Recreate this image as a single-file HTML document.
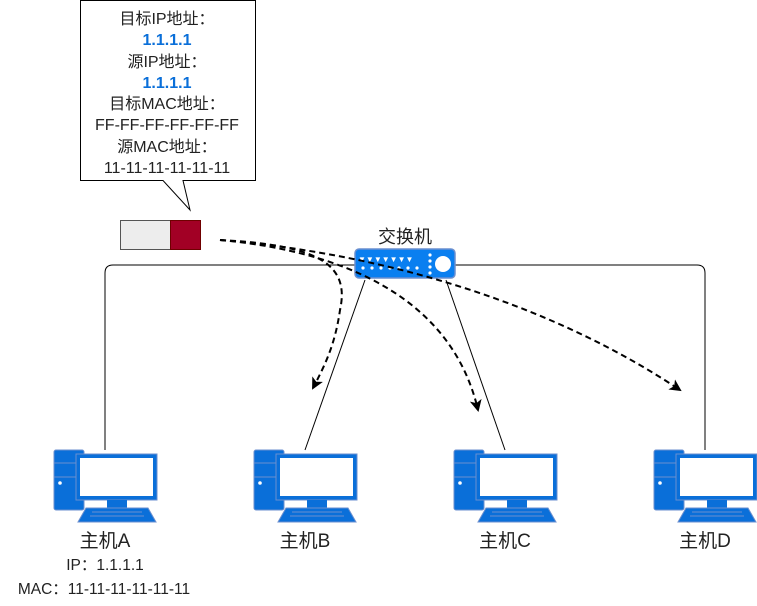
<!DOCTYPE html>
<html><head><meta charset="utf-8"><style>
body{margin:0;width:757px;height:601px;background:#fff;overflow:hidden;font-family:"Liberation Sans","Noto Sans CJK SC",sans-serif;}
</style></head><body>
<svg width="757" height="601" viewBox="0 0 757 601" xmlns="http://www.w3.org/2000/svg" font-family="Liberation Sans, Noto Sans CJK SC, sans-serif">
<defs>
<g id="pc">
<rect x="0" y="0" width="30" height="60" rx="2" fill="#0a6fd9" stroke="#6b8fcf" stroke-width="1"/>
<line x1="0" y1="13" x2="30" y2="13" stroke="#6b8fcf"/>
<line x1="0" y1="27" x2="30" y2="27" stroke="#6b8fcf"/>
<circle cx="6" cy="33" r="1.8" fill="#fff"/>
<rect x="22" y="4" width="81" height="46" fill="#0a6fd9" stroke="#6b8fcf"/>
<rect x="26" y="8" width="73" height="38" fill="#fff"/>
<rect x="53" y="50" width="20" height="8" fill="#0a6fd9"/>
<polygon points="32,58 94,58 102,72 24,72" fill="#0a6fd9" stroke="#6b8fcf"/>
<line x1="38" y1="62" x2="88" y2="62" stroke="#6b8fcf"/>
<line x1="36" y1="66" x2="90" y2="66" stroke="#6b8fcf"/>
</g>
<marker id="ah" markerWidth="12" markerHeight="12" refX="10" refY="6" orient="auto" markerUnits="userSpaceOnUse">
<path d="M0,0 L12,6 L0,12 L3,6 z" fill="#000"/>
</marker>
</defs>
<path d="M80.5,0.5 H255.5 V180.5 H183 L190,210 L163,180.5 H80.5 Z" fill="#fff" stroke="#000"/>
<g font-size="16" text-anchor="middle" fill="#222">
<text x="167" y="24">目标IP地址：</text>
<text x="167" y="45" fill="#0a6fd9" font-weight="bold">1.1.1.1</text>
<text x="167" y="67">源IP地址：</text>
<text x="167" y="88" fill="#0a6fd9" font-weight="bold">1.1.1.1</text>
<text x="167" y="109">目标MAC地址：</text>
<text x="167" y="130">FF-FF-FF-FF-FF-FF</text>
<text x="167" y="152">源MAC地址：</text>
<text x="167" y="173">11-11-11-11-11-11</text>
</g>
<rect x="120.5" y="220.5" width="50" height="29" fill="#ededed" stroke="#555"/>
<rect x="170.5" y="220.5" width="30" height="29" fill="#a20025" stroke="#6f0000"/>
<path d="M105,450 V273 Q105,265 113,265 H697 Q705,265 705,273 V450" fill="none" stroke="#000"/>
<line x1="365" y1="280" x2="305" y2="450" stroke="#000"/>
<line x1="446" y1="280" x2="505" y2="450" stroke="#000"/>
<rect x="355" y="249" width="100" height="29" rx="4" fill="#0a7ff0" stroke="#6b8fcf" stroke-width="1.5"/>
<circle cx="443" cy="264" r="8" fill="#fff"/>
<g fill="#fff" font-size="8"><text x="358" y="262">▼▼▼▼▼▼▼</text></g>
<g fill="#fff">
<circle cx="363" cy="268" r="1.6"/><circle cx="372" cy="268" r="1.6"/><circle cx="381" cy="268" r="1.6"/><circle cx="390" cy="268" r="1.6"/><circle cx="399" cy="268" r="1.6"/><circle cx="408" cy="268" r="1.6"/><circle cx="417" cy="268" r="1.6"/>
<circle cx="430" cy="255" r="1.6"/><circle cx="430" cy="261" r="1.6"/><circle cx="430" cy="267" r="1.6"/><circle cx="430" cy="273" r="1.6"/>
</g>
<text x="405" y="243" font-size="18" text-anchor="middle" fill="#222">交换机</text>
<g fill="none" stroke="#000" stroke-width="2" stroke-dasharray="6,4" marker-end="url(#ah)">
<path d="M220,240 C320,245 350,265 340,310 C335,345 325,365 313,388"/>
<path d="M220,240 C330,250 450,290 478,410"/>
<path d="M220,240 C400,255 560,310 680,390"/>
</g>
<use href="#pc" x="54" y="450"/>
<use href="#pc" x="254" y="450"/>
<use href="#pc" x="454" y="450"/>
<use href="#pc" x="654" y="450"/>
<g font-size="19" text-anchor="middle" fill="#222">
<text x="105" y="547">主机A</text>
<text x="305" y="547">主机B</text>
<text x="505" y="547">主机C</text>
<text x="705" y="547">主机D</text>
</g>
<g font-size="15.5" text-anchor="middle" fill="#222">
<text x="105" y="570">IP：1.1.1.1</text>
<text x="104" y="594">MAC：11-11-11-11-11-11</text>
</g>
</svg>
</body></html>
